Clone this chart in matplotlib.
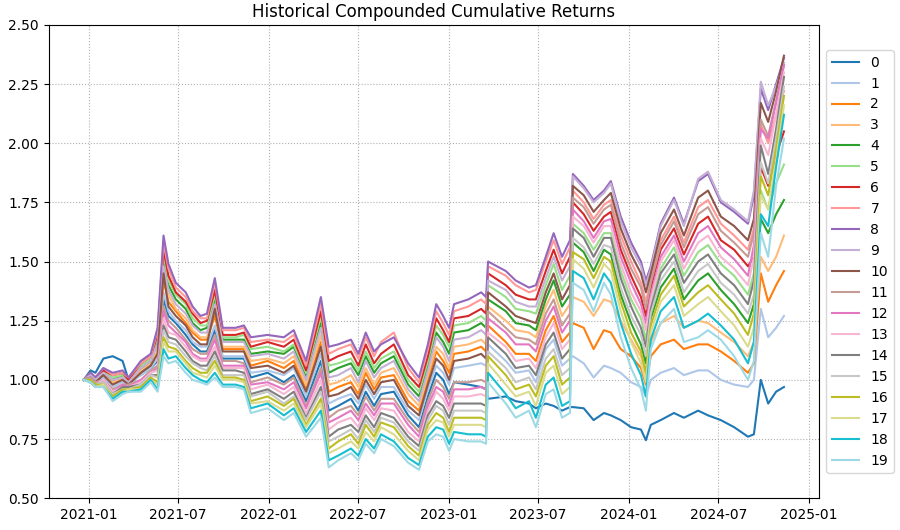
import matplotlib
matplotlib.use("Agg")
import matplotlib.pyplot as plt
import matplotlib.dates as mdates
import pandas as pd

# knot dates
dates = [
    "2020-12-22", "2021-01-05", "2021-01-15", "2021-01-31", "2021-02-19", "2021-03-11",
    "2021-03-23", "2021-04-17", "2021-05-07", "2021-05-21", "2021-06-02", "2021-06-12",
    "2021-06-27", "2021-07-17", "2021-07-31", "2021-08-16", "2021-08-29", "2021-09-14",
    "2021-09-30", "2021-10-26", "2021-11-12", "2021-11-26", "2021-12-30", "2022-02-01",
    "2022-02-21", "2022-03-18", "2022-04-17", "2022-05-03", "2022-05-22", "2022-06-17",
    "2022-07-02", "2022-07-17", "2022-08-03", "2022-08-17", "2022-09-12", "2022-10-11",
    "2022-11-02", "2022-11-20", "2022-12-07", "2022-12-21", "2023-01-02", "2023-01-12",
    "2023-02-10", "2023-03-08", "2023-03-18", "2023-03-22", "2023-04-27", "2023-05-17",
    "2023-06-13", "2023-06-27", "2023-07-17", "2023-08-02", "2023-08-19", "2023-09-04",
    "2023-09-10", "2023-10-02", "2023-10-22", "2023-11-12", "2023-11-26", "2023-12-16",
    "2024-01-06", "2024-01-26", "2024-02-05", "2024-02-15", "2024-03-06", "2024-04-02",
    "2024-04-22", "2024-05-21", "2024-06-10", "2024-07-06", "2024-08-02", "2024-08-30",
    "2024-09-11", "2024-09-25", "2024-10-10", "2024-10-26", "2024-11-11",
]

s0 = [1.00, 1.04, 1.03, 1.09, 1.10, 1.08, 1.00, 1.02, 1.05, 1.08, 1.34, 1.27, 1.24, 1.19, 1.15, 1.12, 1.12, 1.21, 1.09, 1.09,
      1.09, 1.01, 1.03, 0.99, 1.02, 0.91, 1.08, 0.87, 0.89, 0.92, 0.87, 0.95, 0.89, 0.94, 0.95, 0.85, 0.80, 0.93, 1.03, 1.00,
      0.94, 0.99, 0.98, 0.97, 0.96, 0.92, 0.93, 0.91, 0.90, 0.88, 0.90, 0.89, 0.87, 0.885, 0.885, 0.88, 0.83, 0.86, 0.85, 0.83,
      0.80, 0.79, 0.745, 0.81, 0.83, 0.86, 0.84, 0.87, 0.85, 0.83, 0.80, 0.76, 0.77, 1.00, 0.90, 0.95, 0.97]
s1 = [1.00, 1.01, 0.99, 1.01, 0.97, 0.99, 0.98, 1.02, 1.05, 1.09, 1.37, 1.29, 1.25, 1.21, 1.16, 1.14, 1.14, 1.23, 1.10, 1.10,
      1.10, 1.03, 1.04, 1.02, 1.05, 0.93, 1.11, 0.90, 0.92, 0.94, 0.90, 0.98, 0.92, 0.97, 0.97, 0.87, 0.83, 0.96, 1.06, 1.03,
      0.98, 1.05, 1.06, 1.07, 1.06, 1.15, 1.08, 1.03, 1.04, 0.99, 1.13, 1.17, 1.06, 1.09, 1.10, 1.07, 1.01, 1.06, 1.05, 1.03,
      0.99, 0.97, 0.93, 1.00, 1.03, 1.05, 1.02, 1.04, 1.04, 1.00, 0.98, 0.97, 1.00, 1.30, 1.18, 1.22, 1.27]
s2 = [1.00, 1.02, 1.00, 1.02, 0.99, 1.00, 0.99, 1.03, 1.07, 1.12, 1.42, 1.33, 1.29, 1.24, 1.20, 1.17, 1.17, 1.27, 1.13, 1.13,
      1.13, 1.06, 1.08, 1.05, 1.08, 0.96, 1.16, 0.95, 0.97, 0.99, 0.94, 1.03, 0.96, 1.01, 1.02, 0.91, 0.87, 1.00, 1.12, 1.08,
      1.03, 1.11, 1.12, 1.14, 1.12, 1.23, 1.16, 1.11, 1.11, 1.08, 1.21, 1.27, 1.16, 1.20, 1.24, 1.22, 1.13, 1.21, 1.20, 1.13,
      1.10, 1.05, 0.98, 1.10, 1.15, 1.17, 1.13, 1.15, 1.15, 1.12, 1.08, 1.03, 1.07, 1.45, 1.33, 1.40, 1.46]
s3 = [1.00, 1.02, 1.00, 1.02, 0.99, 1.01, 0.99, 1.04, 1.07, 1.13, 1.45, 1.36, 1.30, 1.26, 1.21, 1.18, 1.18, 1.30, 1.14, 1.14,
      1.14, 1.08, 1.09, 1.07, 1.10, 0.98, 1.19, 0.98, 0.99, 1.02, 0.97, 1.05, 0.98, 1.03, 1.05, 0.94, 0.89, 1.02, 1.14, 1.11,
      1.05, 1.14, 1.15, 1.17, 1.15, 1.31, 1.25, 1.21, 1.20, 1.18, 1.31, 1.38, 1.27, 1.32, 1.35, 1.33, 1.27, 1.34, 1.33, 1.25,
      1.17, 1.10, 1.02, 1.16, 1.24, 1.27, 1.22, 1.25, 1.24, 1.20, 1.16, 1.10, 1.16, 1.52, 1.46, 1.52, 1.61]
s4 = [1.00, 1.02, 1.00, 1.03, 1.00, 1.02, 1.00, 1.05, 1.08, 1.16, 1.50, 1.40, 1.34, 1.30, 1.24, 1.21, 1.22, 1.34, 1.17, 1.17,
      1.17, 1.11, 1.12, 1.11, 1.14, 1.01, 1.24, 1.03, 1.05, 1.07, 1.02, 1.10, 1.03, 1.07, 1.10, 0.98, 0.93, 1.06, 1.20, 1.16,
      1.11, 1.20, 1.21, 1.24, 1.22, 1.34, 1.29, 1.24, 1.23, 1.21, 1.34, 1.42, 1.31, 1.36, 1.58, 1.54, 1.46, 1.55, 1.53, 1.36,
      1.24, 1.15, 1.07, 1.26, 1.39, 1.47, 1.34, 1.42, 1.45, 1.38, 1.32, 1.24, 1.32, 1.68, 1.62, 1.70, 1.76]
s5 = [1.00, 1.02, 1.00, 1.04, 1.01, 1.02, 1.00, 1.06, 1.09, 1.18, 1.53, 1.42, 1.36, 1.32, 1.26, 1.23, 1.23, 1.36, 1.18, 1.18,
      1.19, 1.13, 1.14, 1.12, 1.15, 1.03, 1.27, 1.06, 1.07, 1.09, 1.04, 1.12, 1.05, 1.09, 1.12, 1.00, 0.95, 1.08, 1.23, 1.19,
      1.14, 1.23, 1.24, 1.27, 1.25, 1.40, 1.35, 1.30, 1.29, 1.28, 1.40, 1.49, 1.38, 1.44, 1.66, 1.62, 1.55, 1.62, 1.62, 1.46,
      1.34, 1.26, 1.17, 1.32, 1.47, 1.56, 1.44, 1.54, 1.57, 1.49, 1.44, 1.36, 1.45, 1.80, 1.72, 1.83, 1.91]
s6 = [1.00, 1.03, 1.01, 1.04, 1.02, 1.03, 1.00, 1.07, 1.10, 1.19, 1.55, 1.44, 1.37, 1.33, 1.28, 1.24, 1.25, 1.38, 1.19, 1.19,
      1.20, 1.14, 1.16, 1.14, 1.17, 1.04, 1.29, 1.08, 1.10, 1.12, 1.06, 1.15, 1.07, 1.11, 1.15, 1.02, 0.97, 1.10, 1.26, 1.21,
      1.16, 1.26, 1.27, 1.30, 1.28, 1.45, 1.40, 1.36, 1.34, 1.34, 1.46, 1.55, 1.45, 1.52, 1.75, 1.70, 1.63, 1.69, 1.71, 1.55,
      1.44, 1.35, 1.27, 1.39, 1.55, 1.64, 1.53, 1.66, 1.69, 1.59, 1.55, 1.48, 1.52, 1.90, 1.82, 1.95, 2.05]
s7 = [1.00, 1.03, 1.01, 1.05, 1.02, 1.03, 1.01, 1.07, 1.10, 1.21, 1.58, 1.47, 1.39, 1.35, 1.29, 1.26, 1.26, 1.41, 1.21, 1.21,
      1.22, 1.16, 1.17, 1.16, 1.19, 1.06, 1.32, 1.11, 1.13, 1.15, 1.09, 1.18, 1.10, 1.16, 1.20, 1.05, 0.99, 1.13, 1.29, 1.24,
      1.19, 1.29, 1.31, 1.34, 1.32, 1.48, 1.44, 1.40, 1.37, 1.38, 1.50, 1.59, 1.49, 1.56, 1.80, 1.75, 1.68, 1.74, 1.76, 1.61,
      1.50, 1.41, 1.33, 1.42, 1.59, 1.69, 1.58, 1.73, 1.76, 1.66, 1.61, 1.55, 1.64, 2.08, 2.00, 2.12, 2.22]
s8 = [1.00, 1.03, 1.01, 1.05, 1.03, 1.04, 1.01, 1.08, 1.11, 1.22, 1.61, 1.49, 1.41, 1.37, 1.31, 1.27, 1.28, 1.43, 1.22, 1.22,
      1.23, 1.18, 1.19, 1.18, 1.21, 1.08, 1.35, 1.14, 1.15, 1.17, 1.11, 1.20, 1.12, 1.15, 1.18, 1.07, 1.01, 1.15, 1.32, 1.27,
      1.22, 1.32, 1.34, 1.37, 1.35, 1.50, 1.46, 1.42, 1.39, 1.40, 1.52, 1.62, 1.52, 1.59, 1.87, 1.82, 1.76, 1.80, 1.84, 1.69,
      1.58, 1.50, 1.42, 1.48, 1.66, 1.77, 1.66, 1.84, 1.87, 1.75, 1.71, 1.66, 1.78, 2.23, 2.14, 2.25, 2.36]
s9 = [1.00, 1.02, 1.00, 1.03, 1.00, 1.01, 0.99, 1.05, 1.08, 1.15, 1.48, 1.38, 1.32, 1.28, 1.23, 1.20, 1.20, 1.32, 1.16, 1.16,
      1.16, 1.10, 1.11, 1.09, 1.12, 1.00, 1.22, 1.01, 1.02, 1.05, 0.99, 1.08, 1.01, 1.05, 1.08, 0.96, 0.91, 1.04, 1.18, 1.14,
      1.08, 1.17, 1.18, 1.21, 1.19, 1.42, 1.38, 1.33, 1.31, 1.31, 1.43, 1.52, 1.42, 1.48, 1.86, 1.81, 1.75, 1.79, 1.83, 1.67,
      1.56, 1.48, 1.40, 1.47, 1.65, 1.76, 1.65, 1.85, 1.88, 1.76, 1.72, 1.67, 1.80, 2.26, 2.16, 2.24, 2.34]
s10 = [1.00, 1.01, 0.99, 1.02, 0.98, 1.00, 0.98, 1.03, 1.06, 1.11, 1.45, 1.31, 1.27, 1.23, 1.18, 1.15, 1.15, 1.30, 1.12, 1.12,
       1.12, 1.05, 1.06, 1.03, 1.06, 0.95, 1.14, 0.93, 0.94, 0.97, 0.92, 1.00, 0.94, 0.99, 1.00, 0.89, 0.85, 0.98, 1.09, 1.06,
       1.00, 1.08, 1.09, 1.11, 1.09, 1.37, 1.31, 1.27, 1.25, 1.24, 1.37, 1.45, 1.34, 1.40, 1.82, 1.78, 1.71, 1.76, 1.79, 1.64,
       1.53, 1.45, 1.37, 1.45, 1.62, 1.72, 1.61, 1.77, 1.80, 1.69, 1.65, 1.59, 1.68, 2.17, 2.09, 2.22, 2.37]
s11 = [1.00, 1.01, 0.99, 1.00, 0.96, 0.98, 0.98, 1.00, 1.04, 1.06, 1.31, 1.25, 1.22, 1.17, 1.13, 1.11, 1.11, 1.19, 1.08, 1.08,
       1.07, 0.99, 1.01, 0.98, 1.01, 0.89, 1.05, 0.84, 0.87, 0.89, 0.85, 0.93, 0.87, 0.92, 0.92, 0.83, 0.78, 0.91, 1.00, 0.97,
       0.92, 0.99, 0.99, 1.00, 0.99, 1.29, 1.22, 1.18, 1.17, 1.15, 1.28, 1.34, 1.23, 1.28, 1.77, 1.73, 1.66, 1.72, 1.74, 1.58,
       1.47, 1.39, 1.30, 1.41, 1.57, 1.67, 1.56, 1.70, 1.73, 1.63, 1.58, 1.52, 1.62, 2.10, 2.03, 2.18, 2.33]
s12 = [1.00, 1.00, 0.98, 1.00, 0.95, 0.98, 0.97, 1.00, 1.03, 1.05, 1.29, 1.23, 1.20, 1.16, 1.11, 1.09, 1.09, 1.17, 1.06, 1.06,
       1.06, 0.98, 0.99, 0.96, 0.99, 0.88, 1.03, 0.82, 0.84, 0.87, 0.83, 0.90, 0.85, 0.90, 0.90, 0.81, 0.76, 0.89, 0.97, 0.95,
       0.89, 0.96, 0.96, 0.97, 0.96, 1.26, 1.20, 1.15, 1.15, 1.12, 1.25, 1.31, 1.20, 1.25, 1.72, 1.67, 1.60, 1.67, 1.68, 1.52,
       1.41, 1.32, 1.24, 1.36, 1.52, 1.61, 1.50, 1.62, 1.65, 1.56, 1.51, 1.44, 1.57, 2.06, 2.02, 2.17, 2.33]
s13 = [1.00, 1.00, 0.98, 1.00, 0.95, 0.97, 0.97, 0.99, 1.03, 1.04, 1.26, 1.20, 1.19, 1.14, 1.10, 1.08, 1.08, 1.14, 1.05, 1.05,
       1.05, 0.96, 0.98, 0.94, 0.97, 0.86, 1.00, 0.79, 0.82, 0.84, 0.80, 0.88, 0.83, 0.88, 0.87, 0.78, 0.74, 0.87, 0.95, 0.92,
       0.87, 0.93, 0.93, 0.94, 0.93, 1.20, 1.14, 1.08, 1.09, 1.05, 1.18, 1.24, 1.13, 1.17, 1.69, 1.65, 1.58, 1.65, 1.65, 1.49,
       1.37, 1.29, 1.21, 1.34, 1.50, 1.59, 1.47, 1.58, 1.61, 1.52, 1.47, 1.40, 1.52, 2.02, 1.95, 2.12, 2.30]
s14 = [1.00, 1.00, 0.98, 0.99, 0.94, 0.97, 0.97, 0.98, 1.02, 1.02, 1.23, 1.18, 1.17, 1.12, 1.08, 1.06, 1.06, 1.12, 1.04, 1.04,
       1.03, 0.94, 0.96, 0.92, 0.95, 0.84, 0.97, 0.76, 0.79, 0.81, 0.78, 0.85, 0.80, 0.86, 0.84, 0.76, 0.72, 0.85, 0.91, 0.89,
       0.84, 0.90, 0.90, 0.90, 0.89, 1.18, 1.11, 1.05, 1.06, 1.02, 1.15, 1.20, 1.09, 1.13, 1.64, 1.60, 1.52, 1.60, 1.60, 1.43,
       1.31, 1.22, 1.14, 1.30, 1.45, 1.53, 1.41, 1.50, 1.53, 1.45, 1.40, 1.32, 1.42, 1.99, 1.87, 2.06, 2.28]
s15 = [1.00, 1.00, 0.98, 0.99, 0.94, 0.96, 0.96, 0.98, 1.02, 1.01, 1.21, 1.16, 1.15, 1.10, 1.07, 1.05, 1.04, 1.10, 1.02, 1.02,
       1.02, 0.93, 0.95, 0.90, 0.93, 0.83, 0.95, 0.74, 0.76, 0.79, 0.75, 0.83, 0.78, 0.84, 0.82, 0.74, 0.70, 0.83, 0.89, 0.87,
       0.81, 0.87, 0.87, 0.87, 0.86, 1.12, 1.05, 0.99, 1.01, 0.96, 1.09, 1.13, 1.02, 1.05, 1.60, 1.56, 1.49, 1.57, 1.56, 1.39,
       1.27, 1.19, 1.10, 1.28, 1.42, 1.50, 1.37, 1.46, 1.49, 1.41, 1.36, 1.28, 1.36, 1.92, 1.83, 2.02, 2.24]
s16 = [1.00, 1.00, 0.98, 0.98, 0.93, 0.96, 0.96, 0.97, 1.01, 0.99, 1.18, 1.14, 1.13, 1.08, 1.05, 1.03, 1.03, 1.08, 1.01, 1.01,
       1.00, 0.91, 0.93, 0.89, 0.92, 0.81, 0.92, 0.71, 0.74, 0.77, 0.73, 0.81, 0.76, 0.82, 0.80, 0.72, 0.68, 0.81, 0.86, 0.84,
       0.78, 0.84, 0.84, 0.84, 0.83, 1.10, 1.02, 0.96, 0.98, 0.93, 1.06, 1.10, 0.98, 1.01, 1.54, 1.51, 1.43, 1.52, 1.50, 1.33,
       1.20, 1.12, 1.03, 1.23, 1.36, 1.44, 1.31, 1.37, 1.40, 1.34, 1.28, 1.19, 1.28, 1.86, 1.78, 1.98, 2.20]
s17 = [1.00, 0.99, 0.97, 0.98, 0.92, 0.95, 0.96, 0.96, 1.00, 0.98, 1.16, 1.12, 1.12, 1.07, 1.03, 1.02, 1.01, 1.06, 1.00, 1.00,
       0.99, 0.90, 0.91, 0.87, 0.90, 0.80, 0.90, 0.69, 0.71, 0.74, 0.71, 0.78, 0.74, 0.80, 0.77, 0.70, 0.66, 0.79, 0.83, 0.82,
       0.76, 0.81, 0.81, 0.81, 0.80, 1.07, 0.98, 0.93, 0.95, 0.89, 1.03, 1.06, 0.94, 0.97, 1.51, 1.47, 1.39, 1.49, 1.46, 1.29,
       1.16, 1.07, 0.99, 1.20, 1.33, 1.40, 1.27, 1.32, 1.35, 1.29, 1.23, 1.14, 1.22, 1.78, 1.72, 1.93, 2.16]
s18 = [1.00, 0.99, 0.97, 0.97, 0.92, 0.95, 0.95, 0.96, 1.00, 0.96, 1.13, 1.09, 1.10, 1.05, 1.02, 1.00, 0.99, 1.03, 0.98, 0.98,
       0.97, 0.88, 0.90, 0.85, 0.88, 0.78, 0.87, 0.66, 0.68, 0.71, 0.68, 0.75, 0.71, 0.77, 0.74, 0.67, 0.64, 0.76, 0.80, 0.79,
       0.73, 0.78, 0.77, 0.77, 0.76, 1.03, 0.94, 0.88, 0.91, 0.84, 0.98, 1.01, 0.89, 0.91, 1.46, 1.43, 1.34, 1.45, 1.41, 1.24,
       1.11, 1.02, 0.93, 1.17, 1.29, 1.35, 1.22, 1.25, 1.28, 1.23, 1.17, 1.07, 1.16, 1.70, 1.65, 1.90, 2.12]
s19 = [1.00, 0.99, 0.97, 0.97, 0.91, 0.94, 0.95, 0.95, 0.99, 0.95, 1.10, 1.07, 1.08, 1.03, 1.00, 0.99, 0.98, 1.01, 0.97, 0.97,
       0.96, 0.86, 0.88, 0.83, 0.86, 0.76, 0.84, 0.63, 0.66, 0.69, 0.66, 0.73, 0.69, 0.75, 0.72, 0.65, 0.62, 0.74, 0.77, 0.76,
       0.70, 0.75, 0.74, 0.74, 0.73, 0.99, 0.90, 0.84, 0.87, 0.80, 0.94, 0.96, 0.84, 0.86, 1.41, 1.38, 1.29, 1.41, 1.36, 1.18,
       1.05, 0.96, 0.87, 1.13, 1.24, 1.30, 1.16, 1.18, 1.21, 1.17, 1.10, 1.00, 1.08, 1.62, 1.52, 1.82, 2.02]

series = [s0, s1, s2, s3, s4, s5, s6, s7, s8, s9,
          s10, s11, s12, s13, s14, s15, s16, s17, s18, s19]
labels = [str(i) for i in range(20)]

x = pd.to_datetime(dates)
colors = plt.get_cmap("tab20").colors

fig, ax = plt.subplots(figsize=(9, 5.3), dpi=100)
fig.subplots_adjust(left=0.054, right=0.91, bottom=0.06, top=0.953)

for vals, lab, col in zip(series, labels, colors):
    ax.plot(x, vals, color=col, linewidth=1.5, label=lab)

ax.set_ylim(0.5, 2.5)
ax.xaxis.set_major_locator(mdates.MonthLocator(bymonth=[1, 7]))
ax.xaxis.set_major_formatter(mdates.DateFormatter("%Y-%m"))
ax.grid(True, linestyle=":", color="#b0b0b0", linewidth=0.8)
ax.set_title("Historical Compounded Cumulative Returns")
ax.legend(loc="center left", bbox_to_anchor=(1.0, 0.5))

fig.savefig("out.png", dpi=100)
